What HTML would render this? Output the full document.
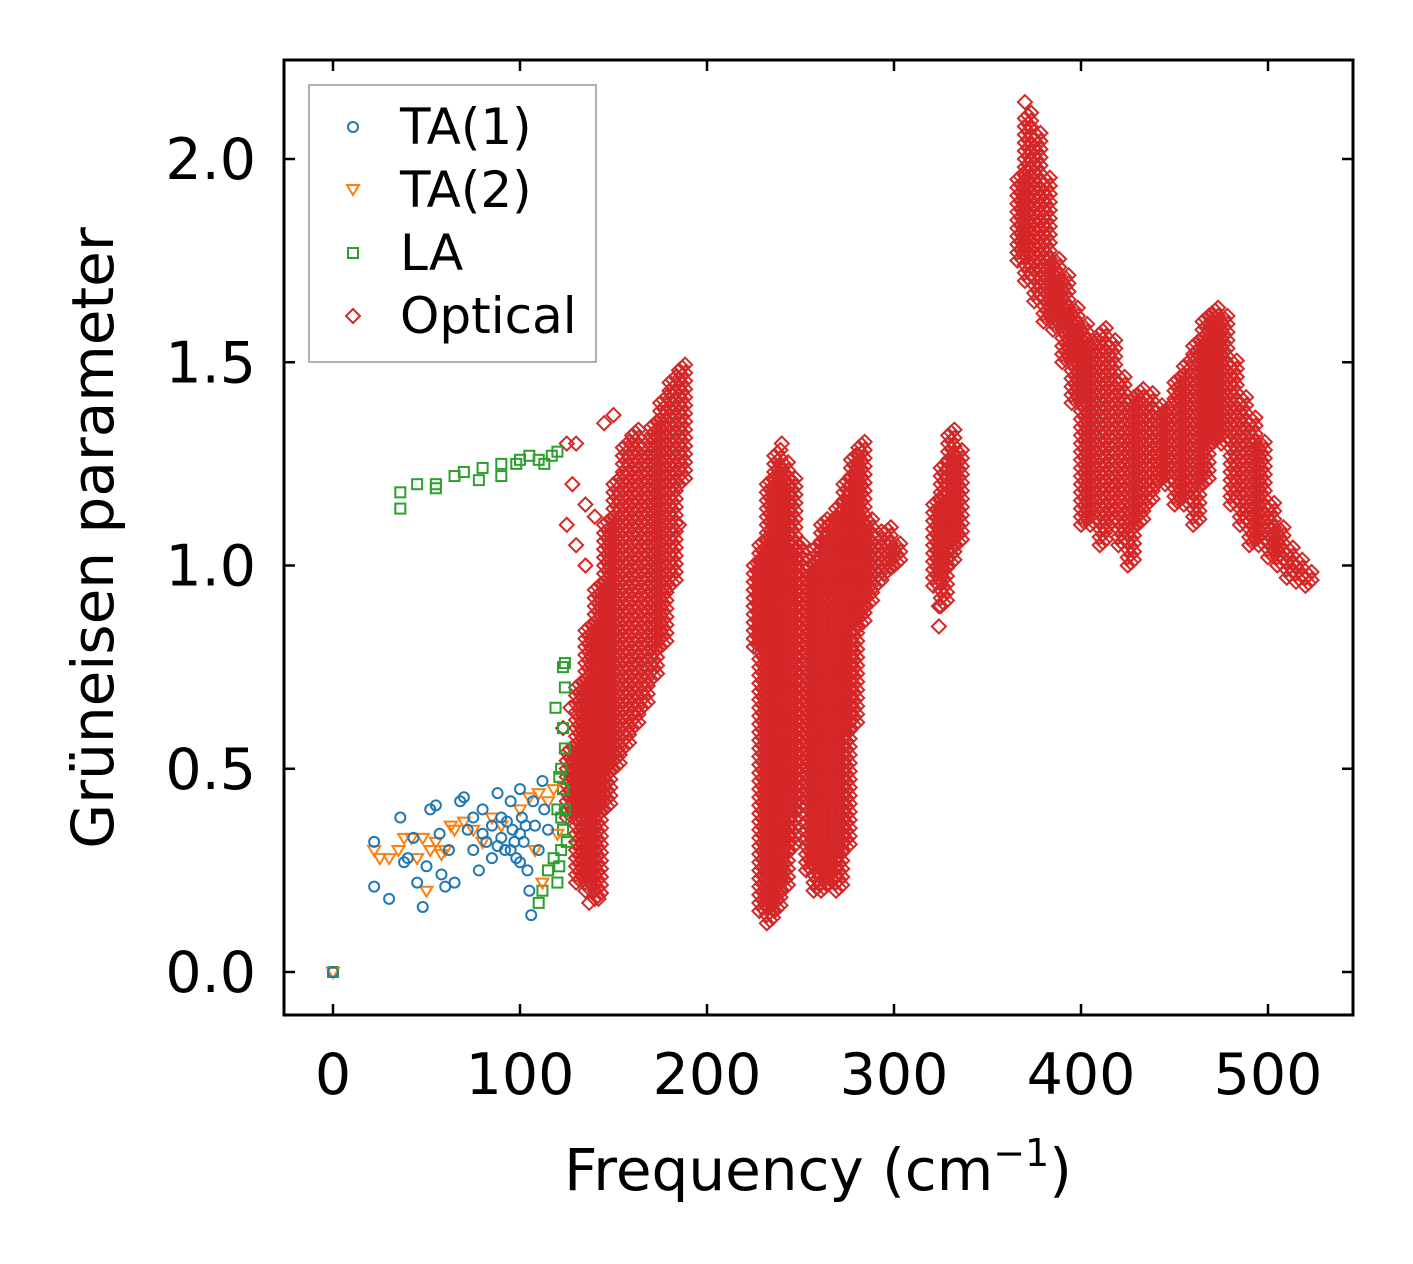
<!DOCTYPE html>
<html><head><meta charset="utf-8"><style>
html,body{margin:0;padding:0;background:#fff;}
svg{display:block;font-family:"DejaVu Sans","Liberation Sans",sans-serif;}
</style></head><body>
<svg id="chart" width="1413" height="1264" viewBox="0 0 1413 1264" xmlns="http://www.w3.org/2000/svg">
<rect width="1413" height="1264" fill="#fff"/>
<g id="marks"></g>
<rect x="284" y="60" width="1069" height="955" fill="none" stroke="#000" stroke-width="3"/>
<g id="ticks"></g>
<text x="818" y="1190" font-size="58" text-anchor="middle">Frequency (cm<tspan font-size="38" dy="-24">−1</tspan><tspan dy="24">)</tspan></text>
<text transform="translate(113,538) rotate(-90)" font-size="58" text-anchor="middle">Grüneisen parameter</text>
<g>
<rect x="309" y="85" width="287" height="277" fill="#fff" stroke="#999" stroke-width="1.5"/>
<circle cx="353" cy="127" r="5" fill="none" stroke="#1f77b4" stroke-width="2"/>
<text x="400" y="144" font-size="50">TA(1)</text>
<path d="M347,185 L359,185 L353,195 Z" fill="none" stroke="#ff7f0e" stroke-width="2"/>
<text x="400" y="207" font-size="50">TA(2)</text>
<rect x="348" y="248" width="10" height="10" fill="none" stroke="#2ca02c" stroke-width="2"/>
<text x="400" y="270" font-size="50">LA</text>
<path d="M353,309 L360,316 L353,323 L346,316 Z" fill="none" stroke="#d62728" stroke-width="2"/>
<text x="400" y="333" font-size="50">Optical</text>
</g>
</svg>
<script>
const xTicks=[0,100,200,300,400,500];
const yTicks=[0.0,0.5,1.0,1.5,2.0];
const yTickLabels=["0.0","0.5","1.0","1.5","2.0"];
const ta1X=[22,22,30,36,38,40,43,45,48,50,52,55,57,58,60,62,65,68,70,72,75,78,80,82,85,88,90,92,95,96,98,100,101,102,104,105,106,107,108,110,112,113,115,90,95,100,85,80,75,100,0,93,97,103,88];
const ta1Y=[0.32,0.21,0.18,0.38,0.27,0.28,0.33,0.22,0.16,0.26,0.4,0.41,0.34,0.24,0.21,0.3,0.22,0.42,0.43,0.35,0.3,0.25,0.4,0.32,0.28,0.44,0.38,0.3,0.42,0.35,0.28,0.45,0.38,0.32,0.25,0.2,0.14,0.42,0.36,0.3,0.47,0.4,0.35,0.33,0.3,0.34,0.36,0.34,0.38,0.27,0,0.37,0.32,0.36,0.31];
const ta2X=[22,25,30,35,38,42,45,48,50,52,55,58,60,63,65,70,75,80,85,90,100,105,110,115,118,120,108,112,0];
const ta2Y=[0.3,0.28,0.28,0.3,0.33,0.33,0.28,0.33,0.2,0.3,0.32,0.29,0.3,0.36,0.35,0.37,0.35,0.32,0.38,0.36,0.4,0.43,0.44,0.42,0.45,0.34,0.3,0.22,0];
const laX=[36,36,45,55,55,65,70,78,80,90,90,98,100,105,110,113,117,120,120,121,122,123,124,123,122,124,123,119,124,123,124,110,112,115,118,120,121,0,125,122];
const laY=[1.14,1.18,1.2,1.19,1.2,1.22,1.23,1.21,1.24,1.22,1.25,1.25,1.26,1.27,1.26,1.25,1.27,1.28,0.22,0.26,0.3,0.35,0.4,0.45,0.5,0.55,0.6,0.65,0.7,0.75,0.76,0.17,0.2,0.25,0.28,0.4,0.48,0,0.32,0.38];
const bandFreq=[125,130,135,140,145,150,155,160,165,170,175,180,185,225,228,232,236,240,244,248,253,257,261,265,269,273,277,281,285,290,295,300,321,325,329,333,366,370,375,380,385,390,395,400,405,410,415,420,425,430,435,440,445,450,455,460,465,470,475,480,485,490,495,500,505,510,515,520];
const bandLow=[0.38,0.22,0.2,0.18,0.4,0.5,0.55,0.6,0.65,0.72,0.8,0.95,1.2,0.8,0.15,0.12,0.15,0.2,0.3,0.4,0.25,0.2,0.2,0.22,0.2,0.3,0.6,0.85,0.9,0.95,0.98,1.0,0.95,0.9,1.0,1.05,1.75,1.7,1.65,1.6,1.58,1.5,1.4,1.1,1.1,1.05,1.1,1.05,1.0,1.1,1.15,1.2,1.2,1.15,1.15,1.1,1.2,1.3,1.3,1.15,1.1,1.05,1.05,1.02,1.0,0.97,0.96,0.95];
const bandHigh=[0.55,0.7,0.85,0.95,1.1,1.2,1.3,1.32,1.3,1.35,1.4,1.45,1.48,1.0,1.05,1.2,1.27,1.25,1.2,1.05,1.0,1.05,1.1,1.1,1.15,1.2,1.27,1.3,1.1,1.08,1.08,1.05,1.15,1.25,1.33,1.28,1.95,2.1,2.05,1.95,1.75,1.7,1.62,1.58,1.55,1.58,1.55,1.45,1.4,1.42,1.42,1.38,1.38,1.45,1.5,1.55,1.6,1.62,1.6,1.5,1.4,1.35,1.3,1.15,1.08,1.03,1.0,0.97];
const optX=[125,130,128,135,140,125,130,135,123,127,145,150,148,165,185,370,373,324,324,227,240,137,142];
const optY=[1.3,1.3,1.2,1.15,1.12,1.1,1.05,1.0,0.6,0.65,1.35,1.37,0.95,0.77,1.1,2.14,2.08,0.85,0.9,0.83,1.3,0.17,0.18];

const NS="http://www.w3.org/2000/svg";
const X=v=>333+v*1.87;
const Y=v=>972-v*406.5;
const marks=document.getElementById('marks');
const ticks=document.getElementById('ticks');
function mk(tag,attrs,parent){const e=document.createElementNS(NS,tag);for(const k in attrs)e.setAttribute(k,attrs[k]);parent.appendChild(e);return e;}
function diamond(f,g){
  const x=X(f),y=Y(g);
  const e=mk('path',{d:`M${x},${y-7}L${x+7},${y}L${x},${y+7}L${x-7},${y}Z`,fill:'none',stroke:'#d62728','stroke-width':2},marks);
  
  
}
for(let i=0;i<bandFreq.length;i++){
  for(let g=bandLow[i];g<=bandHigh[i]+1e-6;g+=0.02){diamond(bandFreq[i],g);diamond(bandFreq[i]+1.7,g+0.007);diamond(bandFreq[i]+3.3,g+0.014);}
}
for(let i=0;i<optX.length;i++)diamond(optX[i],optY[i]);
for(let i=0;i<laX.length;i++){
  const e=mk('rect',{x:X(laX[i])-5,y:Y(laY[i])-5,width:10,height:10,fill:'none',stroke:'#2ca02c','stroke-width':2},marks);
  
  
}
for(let i=0;i<ta2X.length;i++){
  const x=X(ta2X[i]),y=Y(ta2Y[i]);
  const e=mk('path',{d:`M${x-6},${y-4}L${x+6},${y-4}L${x},${y+6}Z`,fill:'none',stroke:'#ff7f0e','stroke-width':2},marks);
  
  
}
for(let i=0;i<ta1X.length;i++){
  const e=mk('circle',{cx:X(ta1X[i]),cy:Y(ta1Y[i]),r:5,fill:'none',stroke:'#1f77b4','stroke-width':2},marks);
  
  
}
xTicks.forEach(v=>{
  const x=X(v);
  mk('line',{x1:x,x2:x,y1:1015,y2:1004,stroke:'#000','stroke-width':2.5},ticks);
  mk('line',{x1:x,x2:x,y1:60,y2:71,stroke:'#000','stroke-width':2.5},ticks);
  const t=mk('text',{x:x,y:1094,'font-size':57,'text-anchor':'middle'},ticks);
  t.textContent=String(v);
  
  
});
yTicks.forEach((v,i)=>{
  const y=Y(v);
  mk('line',{x1:284,x2:295,y1:y,y2:y,stroke:'#000','stroke-width':2.5},ticks);
  mk('line',{x1:1353,x2:1342,y1:y,y2:y,stroke:'#000','stroke-width':2.5},ticks);
  const t=mk('text',{x:256,y:y+20,'font-size':57,'text-anchor':'end'},ticks);
  t.textContent=yTickLabels[i];
  
  
});
</script>
</body></html>
